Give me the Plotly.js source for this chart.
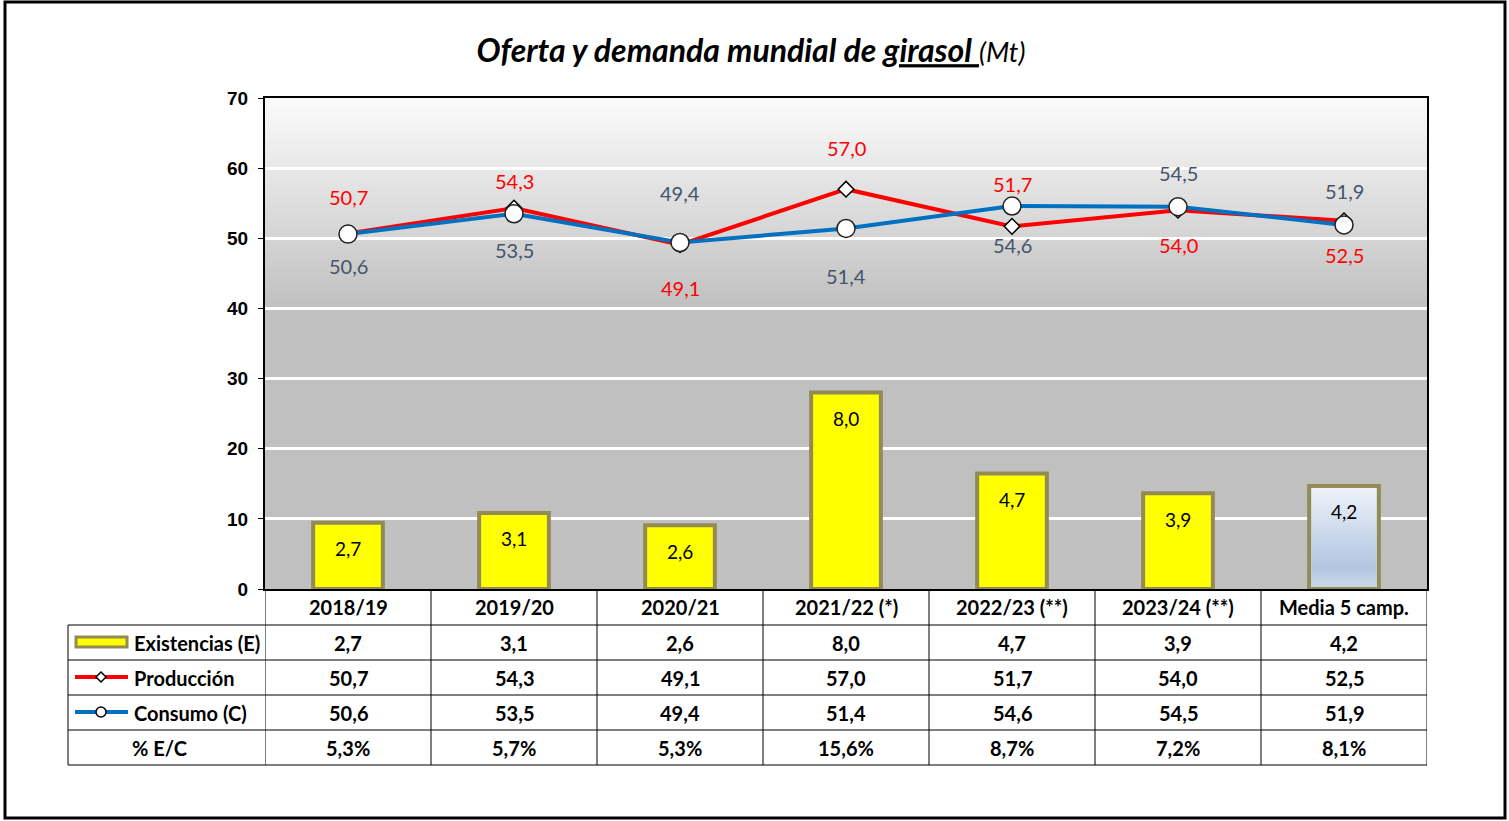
<!DOCTYPE html>
<html>
<head>
<meta charset="utf-8">
<script src="https://cdn.plot.ly/plotly-3.0.1.min.js"></script>
<style>html,body{margin:0;padding:0;background:#fff;}</style>
</head>
<body>
<div id="chart" style="width:1509px;height:821px;"></div>
<script>
// ---- data ----
const categories = ['2018/19', '2019/20', '2020/21', '2021/22 (*)', '2022/23 (**)', '2023/24 (**)', 'Media 5 camp.'];
const stocks = [2.7, 3.1, 2.6, 8.0, 4.7, 3.9, 4.2];
const production = [50.7, 54.3, 49.1, 57.0, 51.7, 54.0, 52.5];
const consumption = [50.6, 53.5, 49.4, 51.4, 54.6, 54.5, 51.9];
const stockRatio = [5.3, 5.7, 5.3, 15.6, 8.7, 7.2, 8.1];
const rowLabels = ['Existencias (E)', 'Producción', 'Consumo (C)', '% E/C'];

// ---- label offsets (layout, px) ----
const prodLabelShift = [36, 27, -43, 41, 42, -35, -34];
const consLabelShift = [-32, -36, 49, -48, -39, 34, 34];

const fmt = v => v.toFixed(1).replace('.', ',');
const FONT = 'Lato, "Open Sans", sans-serif';

// plot-area geometry (px) for paper conversions
const L = 265, T = 98, W = 1162, H = 491;
const px2x = p => (p - L) / W;
const py2y = p => (T + H - p) / H;

const yellow = '#ffff00', olive = '#948a54';
const barColors = stocks.map((_, i) => i === stocks.length - 1 ? '#c9d7eb' : yellow);

const traces = [
  {
    type: 'bar', x: categories, y: stocks, yaxis: 'y', width: 0.42,
    marker: {color: barColors, line: {color: olive, width: 4}},
    hoverinfo: 'skip', showlegend: false
  },
  {
    type: 'scatter', mode: 'lines+markers', x: categories, y: production, yaxis: 'y2',
    line: {color: '#ff0000', width: 4},
    marker: {symbol: 'diamond', size: 12, color: '#ffffff', line: {color: '#000', width: 1.5}},
    hoverinfo: 'skip', showlegend: false
  },
  {
    type: 'scatter', mode: 'lines+markers', x: categories, y: consumption, yaxis: 'y2',
    line: {color: '#0070c0', width: 4},
    marker: {symbol: 'circle', size: 18, color: '#ffffff', line: {color: '#222', width: 1.5}},
    hoverinfo: 'skip', showlegend: false
  }
];

const annotations = [];
// bar labels
stocks.forEach((v, i) => annotations.push({
  xref: 'x', yref: 'y', x: categories[i], y: v, yshift: -26, text: fmt(v), showarrow: false,
  xanchor: 'center', yanchor: 'middle',
  font: {family: FONT, size: 19, color: '#000'}
}));
// line labels
production.forEach((v, i) => annotations.push({
  xref: 'x', yref: 'y2', x: categories[i], y: v, yshift: prodLabelShift[i], text: fmt(v), showarrow: false,
  xanchor: 'center', yanchor: 'middle',
  font: {family: FONT, size: 20, color: '#ff0000'}
}));
consumption.forEach((v, i) => annotations.push({
  xref: 'x', yref: 'y2', x: categories[i], y: v, yshift: consLabelShift[i], text: fmt(v), showarrow: false,
  xanchor: 'center', yanchor: 'middle',
  font: {family: FONT, size: 20, color: '#44546a'}
}));
// table header
const tFont = {family: FONT, size: 20, color: '#000'};
categories.forEach((c, i) => annotations.push({
  xref: 'x', yref: 'paper', x: c, y: py2y(607), text: '<b>' + c + '</b>', showarrow: false,
  xanchor: 'center', yanchor: 'middle', font: tFont
}));
// table rows
const rowCenters = [642.5, 677.5, 712.5, 747.5];
const rows = [stocks.map(fmt), production.map(fmt), consumption.map(fmt), stockRatio.map(v => fmt(v) + '%')];
rows.forEach((r, k) => r.forEach((t, i) => annotations.push({
  xref: 'x', yref: 'paper', x: categories[i], y: py2y(rowCenters[k]), text: '<b>' + t + '</b>', showarrow: false,
  xanchor: 'center', yanchor: 'middle', font: tFont
})));
rowLabels.forEach((t, k) => annotations.push({
  xref: 'paper', yref: 'paper',
  x: k === 3 ? px2x(159) : px2x(132), xanchor: k === 3 ? 'center' : 'left', yanchor: 'middle',
  y: py2y(rowCenters[k]), text: '<b>' + t + '</b>', showarrow: false, font: tFont
}));

const shapes = [];
// outer frame
shapes.push({type: 'rect', xref: 'paper', yref: 'paper', x0: px2x(5), x1: px2x(1505), y0: py2y(818), y1: py2y(2),
  line: {color: '#000', width: 3}, fillcolor: 'rgba(0,0,0,0)'});
// table horizontal lines
[625, 660, 695, 730, 765].forEach(p => shapes.push({type: 'line', xref: 'paper', yref: 'paper',
  x0: px2x(68), x1: 1, y0: py2y(p), y1: py2y(p), line: {color: '#000', width: 1}}));
// table vertical lines (column boundaries follow category slots)
for (let k = 0; k <= categories.length; k++) {
  shapes.push({type: 'line', xref: 'x', yref: 'paper', x0: k - 0.5, x1: k - 0.5, y0: py2y(765), y1: 0,
    line: {color: '#000', width: 1}});
}
shapes.push({type: 'line', xref: 'paper', yref: 'paper', x0: px2x(68), x1: px2x(68), y0: py2y(765), y1: py2y(625),
  line: {color: '#000', width: 1}});
// legend keys
shapes.push({type: 'rect', xref: 'paper', yref: 'paper', x0: px2x(76), x1: px2x(127), y0: py2y(647), y1: py2y(637),
  fillcolor: yellow, line: {color: olive, width: 3}});
shapes.push({type: 'line', xref: 'paper', yref: 'paper', x0: px2x(75), x1: px2x(128), y0: py2y(677), y1: py2y(677),
  line: {color: '#ff0000', width: 4}});
shapes.push({type: 'path', xref: 'paper', yref: 'paper',
  path: `M ${px2x(101)},${py2y(672)} L ${px2x(106)},${py2y(677)} L ${px2x(101)},${py2y(682)} L ${px2x(96)},${py2y(677)} Z`,
  fillcolor: '#fff', line: {color: '#000', width: 1.5}});
shapes.push({type: 'line', xref: 'paper', yref: 'paper', x0: px2x(75), x1: px2x(128), y0: py2y(712), y1: py2y(712),
  line: {color: '#0070c0', width: 4}});
shapes.push({type: 'circle', xref: 'paper', yref: 'paper', x0: px2x(96), x1: px2x(106), y0: py2y(717), y1: py2y(707),
  fillcolor: '#fff', line: {color: '#000', width: 1.5}});

// background gradient (upper part of plot area)
const bgSvg = '<svg xmlns="http://www.w3.org/2000/svg" width="10" height="100" preserveAspectRatio="none">' +
  '<defs><linearGradient id="g" x1="0" y1="0" x2="0" y2="1">' +
  '<stop offset="0" stop-color="#fbfbfb"/><stop offset="1" stop-color="#c0c0c0"/></linearGradient></defs>' +
  '<rect width="10" height="100" fill="url(#g)"/></svg>';
const meanSvg = '<svg xmlns="http://www.w3.org/2000/svg" width="10" height="100" preserveAspectRatio="none">' +
  '<defs><linearGradient id="g" x1="0" y1="0" x2="0" y2="1">' +
  '<stop offset="0" stop-color="#eef2f9"/><stop offset="0.8" stop-color="#b2c6e1"/><stop offset="1" stop-color="#c9d7eb"/></linearGradient></defs>' +
  '<rect width="10" height="100" fill="url(#g)"/></svg>';
const mi = stocks.length - 1;
const images = [
  {source: 'data:image/svg+xml;charset=utf-8,' + encodeURIComponent(bgSvg), xref: 'paper', yref: 'paper',
    x: 0, y: 1, sizex: 1, sizey: 30 / 70, xanchor: 'left', yanchor: 'top', sizing: 'stretch', layer: 'below'},
  {source: 'data:image/svg+xml;charset=utf-8,' + encodeURIComponent(meanSvg), xref: 'x', yref: 'y',
    x: mi, y: stocks[mi] - 0.08, sizex: 0.42 - 0.026, sizey: stocks[mi] - 0.16, xanchor: 'center', yanchor: 'top',
    sizing: 'stretch', layer: 'above'}
];

const layout = {
  width: 1509, height: 821,
  margin: {l: L, r: 1509 - L - W, t: T, b: 821 - T - H},
  paper_bgcolor: '#ffffff', plot_bgcolor: '#c0c0c0',
  showlegend: false, bargap: 0,
  title: {
    text: '<b><i>Oferta y demanda mundial de <span style="text-decoration:underline">girasol </span></i></b><i><span style="font-size:27px">(Mt)</span></i>',
    x: 751 / 1509, xref: 'container', xanchor: 'center', y: 1 - 51 / 821, yref: 'container', yanchor: 'middle',
    font: {family: FONT, size: 32, color: '#000'}
  },
  xaxis: {type: 'category', range: [-0.5, categories.length - 0.5], showticklabels: false, ticks: '',
    showgrid: false, showline: true, mirror: true, linecolor: '#000', linewidth: 2, zeroline: false, fixedrange: true},
  yaxis: {range: [0, 20], showgrid: false, showticklabels: false, ticks: '', zeroline: false,
    showline: true, mirror: true, linecolor: '#000', linewidth: 2, fixedrange: true},
  yaxis2: {overlaying: 'y', side: 'left', range: [0, 70], dtick: 10, tick0: 0,
    ticks: 'outside', ticklen: 6, tickcolor: '#000', tickwidth: 1, ticklabelstandoff: 6,
    tickfont: {family: 'Liberation Sans, Arial, sans-serif', size: 19, color: '#000', weight: 'bold'},
    showgrid: true, gridcolor: '#ffffff', gridwidth: 3, zeroline: false, showline: false, fixedrange: true},
  annotations: annotations,
  shapes: shapes,
  images: images
};

Plotly.newPlot('chart', traces, layout, {displayModeBar: false, staticPlot: true});
</script>
</body>
</html>
